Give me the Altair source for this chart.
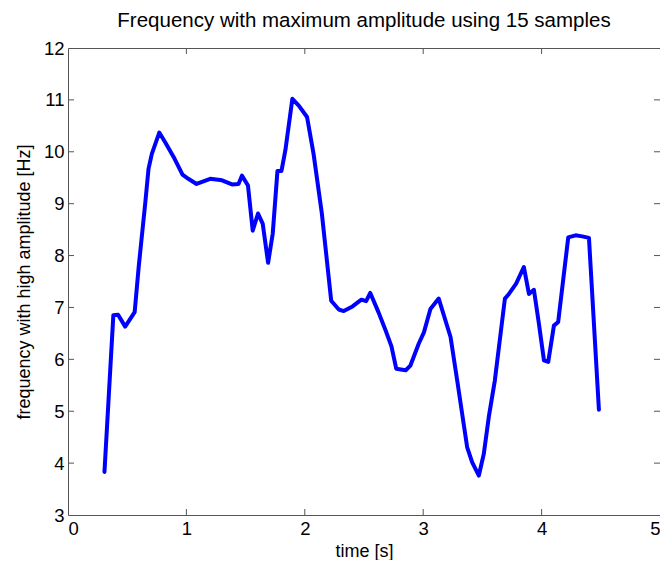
import altair as alt
import pandas as pd

# Time [s] and dominant frequency [Hz]
time_s = [0.308, 0.383, 0.423, 0.483, 0.563, 0.597, 0.652, 0.680, 0.708, 0.771,
          0.822, 0.892, 0.967, 1.016, 1.086, 1.201, 1.301, 1.385, 1.440, 1.469,
          1.520, 1.560, 1.605, 1.645, 1.690, 1.729, 1.769, 1.803, 1.836, 1.895,
          1.949, 2.019, 2.074, 2.144, 2.223, 2.287, 2.329, 2.403, 2.478, 2.518,
          2.553, 2.622, 2.682, 2.732, 2.772, 2.852, 2.892, 2.962, 3.006, 3.061,
          3.131, 3.231, 3.290, 3.329, 3.371, 3.413, 3.470, 3.512, 3.554, 3.605,
          3.690, 3.724, 3.785, 3.850, 3.893, 3.935, 3.977, 4.020, 4.056, 4.104,
          4.140, 4.225, 4.287, 4.343, 4.400, 4.484]
freq_hz = [3.83, 6.85, 6.86, 6.63, 6.91, 7.78, 9.00, 9.67, 9.96, 10.37,
           10.18, 9.90, 9.56, 9.48, 9.38, 9.48, 9.45, 9.37, 9.38, 9.54,
           9.35, 8.48, 8.81, 8.61, 7.86, 8.42, 9.63, 9.63, 10.03, 11.02,
           10.89, 10.67, 9.96, 8.81, 7.13, 6.96, 6.93, 7.02, 7.15, 7.12,
           7.28, 6.91, 6.56, 6.25, 5.82, 5.79, 5.88, 6.30, 6.52, 6.97,
           7.17, 6.43, 5.55, 4.95, 4.31, 4.02, 3.76, 4.18, 4.89, 5.59,
           7.17, 7.26, 7.46, 7.78, 7.26, 7.34, 6.69, 5.98, 5.95, 6.65,
           6.72, 8.35, 8.39, 8.37, 8.34, 5.03]

x_ticks = [0, 1, 2, 3, 4, 5]
y_ticks = [3, 4, 5, 6, 7, 8, 9, 10, 11, 12]

W, H = 592, 467
FONT = "Liberation Sans"
FRAME = "#555555"

df = pd.DataFrame({"t": time_s, "f": freq_hz})
xt = pd.DataFrame({"v": x_ticks[1:-1]})
yt = pd.DataFrame({"v": y_ticks[1:-1]})

xs = alt.Scale(domain=[0, 5], nice=False)
ys = alt.Scale(domain=[3, 12], nice=False)

line = alt.Chart(df).mark_line(color="#0000FF", strokeWidth=4, strokeJoin="round",
                               strokeCap="round").encode(
    x=alt.X("t:Q", scale=xs, title="time [s]",
            axis=alt.Axis(values=x_ticks, format="d")),
    y=alt.Y("f:Q", scale=ys, title="frequency with high amplitude [Hz]",
            axis=alt.Axis(values=y_ticks, format="d")),
)

tick_style = dict(color=FRAME, strokeWidth=1)
xb = alt.Chart(xt).mark_rule(**tick_style).encode(
    x=alt.X("v:Q", scale=xs), y=alt.value(H), y2=alt.value(H - 6))
xtop = alt.Chart(xt).mark_rule(**tick_style).encode(
    x=alt.X("v:Q", scale=xs), y=alt.value(0), y2=alt.value(6))
yl = alt.Chart(yt).mark_rule(**tick_style).encode(
    y=alt.Y("v:Q", scale=ys), x=alt.value(0), x2=alt.value(6))
yr = alt.Chart(yt).mark_rule(**tick_style).encode(
    y=alt.Y("v:Q", scale=ys), x=alt.value(W), x2=alt.value(W - 6))

chart = alt.layer(xb, xtop, yl, yr, line).properties(
    width=W, height=H,
    title=alt.TitleParams("Frequency with maximum amplitude using 15 samples",
                          font=FONT, fontSize=20.5, fontWeight="normal",
                          color="black", offset=8),
    autosize=alt.AutoSizeParams(type="none"),
    padding={"left": 60, "top": 40, "right": 0, "bottom": 45},
).configure_view(
    stroke=FRAME, strokeWidth=1
).configure_axis(
    grid=False, domain=False, ticks=False,
    labelFont=FONT, labelFontSize=18.5, labelColor="black",
    titleFont=FONT, titleFontSize=18, titleFontWeight="normal", titleColor="black",
).configure_axisX(
    labelPadding=4, titlePadding=5
).configure_axisY(
    labelPadding=4, titlePadding=10
)

chart.save("out.html", embed_options={"renderer": "svg", "actions": False})
